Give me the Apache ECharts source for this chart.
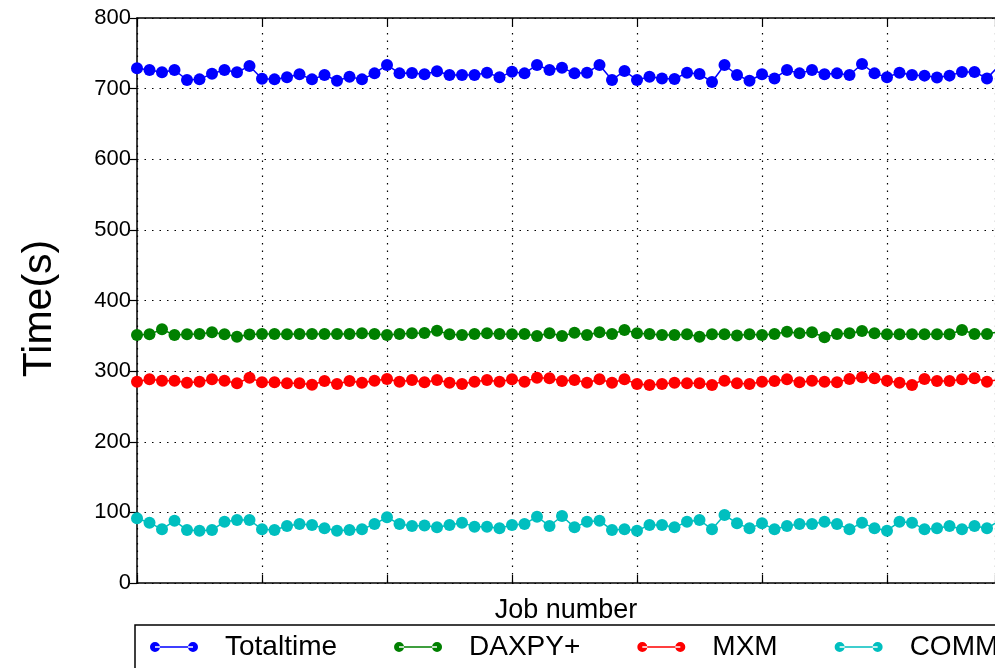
<!DOCTYPE html>
<html>
<head>
<meta charset="utf-8">
<script src="https://cdn.jsdelivr.net/npm/echarts@6/dist/echarts.min.js"></script>
<style>
html,body{margin:0;padding:0;background:#fff;}
#chart{width:995px;height:668px;}
</style>
</head>
<body>
<div id="chart"></div>
<script>
const seriesNames = ['Totaltime', 'DAXPY+', 'MXM', 'COMM'];
const yTicks = [0, 100, 200, 300, 400, 500, 600, 700, 800];

const totaltime = [728.7,726.4,723.1,726.4,712.2,713.1,721.2,726.4,723.1,732.0,
  714.1,713.1,716.0,720.3,713.1,719.3,711.2,716.9,713.1,721.6,
  733.5,721.6,722.1,720.3,724.5,719.3,719.3,719.3,722.6,716.0,
  724.0,721.6,733.5,726.4,729.7,721.6,722.6,733.5,712.2,725.0,
  712.2,716.9,714.5,713.6,722.6,720.7,709.4,733.5,719.3,711.2,
  720.3,714.5,726.4,721.6,726.4,720.3,721.6,719.3,734.9,721.6,
  716.0,722.6,719.3,718.4,715.6,718.4,723.5,723.5,714.5,733.5];

const daxpy = [351.2,352.1,359.2,351.2,352.1,352.6,355.0,352.1,348.8,352.0,
  352.6,352.6,352.1,352.6,352.6,352.6,352.6,352.6,353.5,352.6,
  351.2,352.6,353.5,353.9,357.3,352.1,351.2,352.6,353.5,352.6,
  352.1,352.6,349.8,353.5,349.8,354.4,351.2,355.0,352.6,358.2,
  353.5,352.6,351.2,351.2,352.1,348.8,352.1,352.1,350.3,352.1,
  351.2,352.6,355.9,353.5,355.0,347.9,352.6,353.5,356.8,353.5,
  352.1,352.1,352.1,352.1,352.1,352.1,358.2,352.6,352.6,355.9];

const mxm = [285.1,288.4,286.5,286.5,283.6,285.1,288.4,286.5,282.7,290.7,
  284.1,284.1,282.7,282.7,280.8,286.0,281.8,286.0,283.6,286.5,
  288.9,285.1,287.4,284.1,287.4,283.6,281.8,285.1,287.4,285.1,
  288.4,285.1,290.7,289.8,286.0,287.4,283.6,288.4,283.6,288.4,
  281.8,280.4,281.8,283.6,282.7,282.7,280.4,286.5,282.7,281.8,
  285.1,286.0,288.4,284.1,286.5,285.1,284.1,288.9,291.2,289.8,
  286.5,283.6,280.4,288.9,286.0,286.0,288.4,289.8,285.1,288.0];

const comm = [91.6,85.4,76.0,88.3,75.0,74.1,75.0,86.8,89.2,89.2,
  76.0,75.0,80.7,83.5,82.1,77.4,74.1,75.0,76.0,83.5,
  93.0,83.5,80.7,81.4,78.8,82.1,85.4,79.8,79.8,77.4,
  82.1,83.5,93.9,80.7,94.9,78.8,86.8,88.3,75.0,76.0,
  74.1,82.1,82.1,78.8,86.8,89.2,76.0,96.3,84.5,77.4,
  84.5,76.0,80.7,83.5,83.5,86.8,83.5,76.0,85.4,77.4,
  74.1,86.8,85.4,76.0,77.4,80.7,76.0,80.7,77.4,88.3];

const colors = ['#0000ff', '#008000', '#ff0000', '#00bfbf'];
const allData = [totaltime, daxpy, mxm, comm];

// the reference axis runs 0..70 over 875px, but the picture is cut at 995px,
// so the visible part of the axis ends at 858/12.5 = 68.64
const X_MIN = 0, X_VISIBLE_MAX = 68.64, X_STEP = 10;

const FONT = 'Liberation Sans, Arial, Helvetica, sans-serif';
const legendIcon = 'path://M0,5A5,5,0,1,0,10,5A5,5,0,1,0,0,5ZM38,5A5,5,0,1,0,48,5A5,5,0,1,0,38,5ZM5,4.2L43,4.2L43,5.8L5,5.8Z';

const chart = echarts.init(document.getElementById('chart'), null, {renderer: 'canvas'});
const option = {
  backgroundColor: '#fff',
  animation: false,
  grid: {
    left: 137, top: 18, right: 0, height: 565, show: false
  },
  xAxis: [{
    type: 'value', min: X_MIN, max: X_VISIBLE_MAX, interval: X_STEP,
    name: 'Job number', nameLocation: 'middle', nameGap: 14,
    nameTextStyle: {fontSize: 27, fontFamily: FONT, color: '#000', padding: [0, 0, 0, 0]},
    axisLine: {show: true, lineStyle: {color: '#000', width: 1.5}},
    axisTick: {show: true, inside: true, length: 8, lineStyle: {color: '#000', width: 1.2}},
    axisLabel: {show: false},
    splitLine: {show: true, lineStyle: {color: '#000', width: 1.2, type: [1.5, 6]}}
  }, {
    type: 'value', min: X_MIN, max: X_VISIBLE_MAX, interval: X_STEP, position: 'top',
    axisLine: {show: true, onZero: false, lineStyle: {color: '#000', width: 1.5}},
    axisTick: {show: true, inside: true, length: 8, lineStyle: {color: '#000', width: 1.2}},
    axisLabel: {show: false},
    splitLine: {show: false}
  }],
  yAxis: {
    type: 'value', min: yTicks[0], max: yTicks[yTicks.length - 1], interval: 100,
    name: 'Time(s)', nameLocation: 'middle', nameGap: 77,
    nameTextStyle: {fontSize: 41, fontFamily: FONT, color: '#000', padding: [0, 16, 0, 0]},
    axisLine: {show: true, lineStyle: {color: '#000', width: 1.5}},
    axisTick: {show: true, inside: false, length: 7, lineStyle: {color: '#000', width: 1.2}},
    axisLabel: {fontSize: 22, fontFamily: FONT, color: '#000', margin: 6},
    splitLine: {show: true, lineStyle: {color: '#000', width: 1.2, type: [1.5, 6]}}
  },
  legend: {
    left: 135, top: 625, width: 1200,
    itemWidth: 48, itemHeight: 10, itemGap: 57,
    padding: [8, 15, 14, 15],
    borderColor: '#000', borderWidth: 1.5, backgroundColor: '#fff',
    icon: legendIcon,
    textStyle: {fontSize: 28, fontFamily: FONT, color: '#000', padding: [0, 0, 0, 22]},
    data: seriesNames
  },
  series: seriesNames.map((name, i) => ({
    name: name,
    type: 'line',
    data: allData[i].map((v, k) => [k, v]),
    symbol: 'circle',
    symbolSize: 12,
    showSymbol: true,
    color: colors[i],
    lineStyle: {color: colors[i], width: 1.5},
    itemStyle: {color: colors[i], borderWidth: 0},
    z: 3
  }))
};
chart.setOption(option);
</script>
</body>
</html>
